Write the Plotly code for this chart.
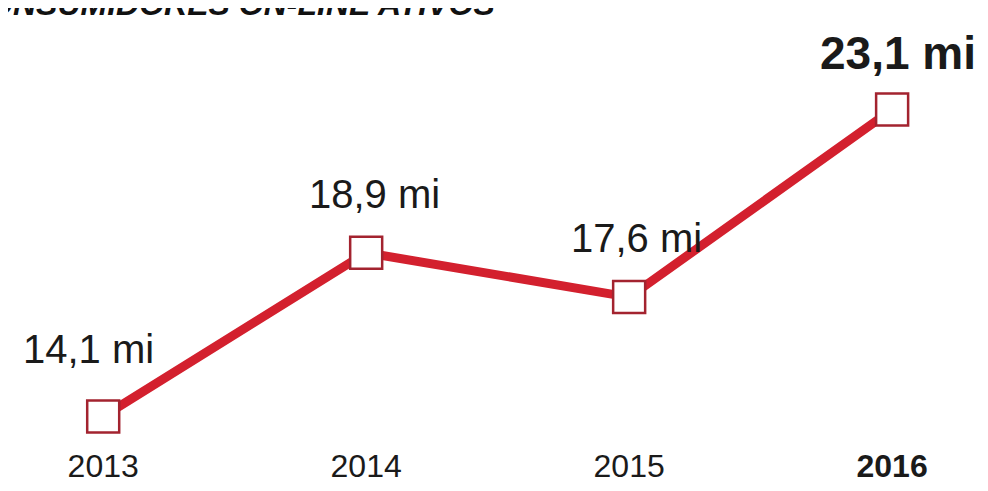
import plotly.graph_objects as go

years = ["2013", "2014", "2015", "2016"]
tick_text = ["2013", "2014", "2015", "<b>2016</b>"]
values = [14.1, 18.9, 17.6, 23.1]
labels = ["14,1 mi", "18,9 mi", "17,6 mi", "<b>23,1 mi</b>"]
title = "<b><i>CONSUMIDORES ON-LINE ATIVOS</i></b>"

xs = list(range(len(years)))

fig = go.Figure()
fig.add_trace(go.Scatter(
    x=xs, y=values, mode="lines+markers",
    line=dict(color="#d3202e", width=9),
    marker=dict(symbol="square", size=32, color="white",
                line=dict(color="#a3232f", width=2.5)),
    hoverinfo="skip",
))

shifts = [(-15, 67, 40), (8, 59, 40), (7, 59, 40), (6, 57, 46)]
for i, (xs_, ys_, fs) in enumerate(shifts):
    fig.add_annotation(x=xs[i], y=values[i], text=labels[i], showarrow=False,
                       xshift=xs_, yshift=ys_,
                       font=dict(family="Liberation Sans, Arial", size=fs, color="#1a1a1a"))

fig.add_annotation(xref="paper", yref="paper", x=-0.046, y=1.0095, xanchor="left",
                   yanchor="middle", text=title, showarrow=False,
                   font=dict(family="Liberation Sans, Arial", size=32, color="#111111"))

fig.update_layout(
    width=988, height=491,
    margin=dict(l=0, r=0, t=0, b=55, autoexpand=False),
    paper_bgcolor="white", plot_bgcolor="white",
    showlegend=False,
    xaxis=dict(range=[-0.362, 3.395], tickvals=xs, ticktext=tick_text,
               showgrid=False, zeroline=False, showline=False, ticks="",
               automargin=False,
               tickfont=dict(family="Liberation Sans, Arial", size=32, color="#1a1a1a")),
    yaxis=dict(range=[13.29, 26.08], showgrid=False, zeroline=False,
               showline=False, showticklabels=False, ticks="", automargin=False),
)

fig.write_html("out.html")
